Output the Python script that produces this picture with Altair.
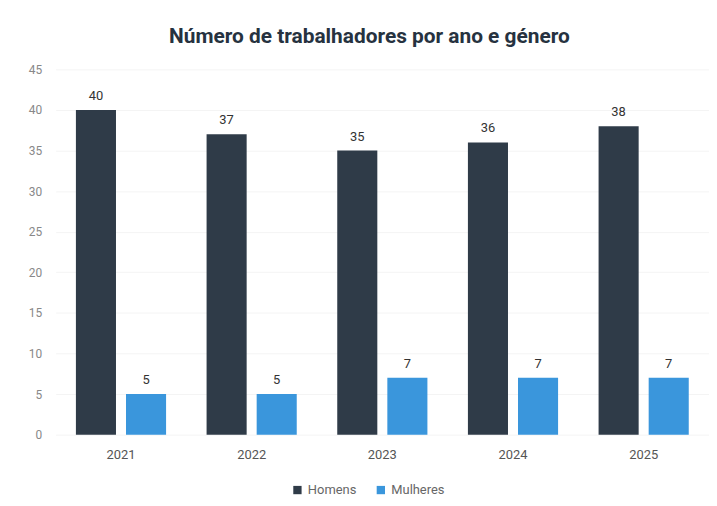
import altair as alt
import pandas as pd

years = ["2021", "2022", "2023", "2024", "2025"]
homens = [40, 37, 35, 36, 38]
mulheres = [5, 5, 7, 7, 7]
genders = ["Homens", "Mulheres"]
colors = ["#2f3b48", "#3a96dc"]

rows = []
for y, h, m in zip(years, homens, mulheres):
    rows.append({"Ano": y, "Género": "Homens", "Valor": h})
    rows.append({"Ano": y, "Género": "Mulheres", "Valor": m})
df = pd.DataFrame(rows)

base = alt.Chart(df).encode(
    x=alt.X("Ano:N", sort=years, title=None,
            scale=alt.Scale(paddingInner=0.31, paddingOuter=0.155),
            axis=alt.Axis(labelAngle=0, ticks=False, domain=False, labelPadding=14,
                          labelFontSize=13, labelColor="#555555", labelFont="Roboto")),
    xOffset=alt.XOffset("Género:N", sort=genders, scale=alt.Scale(paddingInner=0.2)),
)

bars = base.mark_bar().encode(
    y=alt.Y("Valor:Q", title=None,
            scale=alt.Scale(domain=[0, 45]),
            axis=alt.Axis(values=list(range(0, 50, 5)), ticks=False, domain=False,
                          labelPadding=14, labelFontSize=12, labelColor="#888888",
                          labelFont="Roboto", gridColor="#f4f4f4")),
    color=alt.Color("Género:N", sort=genders,
                    scale=alt.Scale(domain=genders, range=colors),
                    legend=alt.Legend(title=None, orient="none", direction="horizontal",
                                      legendX=237, legendY=417, symbolType="square",
                                      symbolSize=70, labelFontSize=13, labelColor="#666666",
                                      labelFont="Roboto", columnPadding=18)),
)

labels = base.mark_text(baseline="bottom", dy=-7, fontSize=13, color="#333333",
                        font="Roboto").encode(
    y=alt.Y("Valor:Q"),
    text=alt.Text("Valor:Q"),
)

chart = (bars + labels).properties(
    width=658, height=368,
    title=alt.TitleParams("Número de trabalhadores por ano e género", fontSize=21,
                          font="Roboto", fontWeight="bold", color="#263240",
                          anchor="middle", offset=16, dx=-13),
    autosize=alt.AutoSizeParams(type="none"),
    padding={"left": 48, "top": 60, "right": 0, "bottom": 60},
).configure_view(stroke=None)

chart.save("out.html", embed_options={"renderer": "svg", "actions": False})
